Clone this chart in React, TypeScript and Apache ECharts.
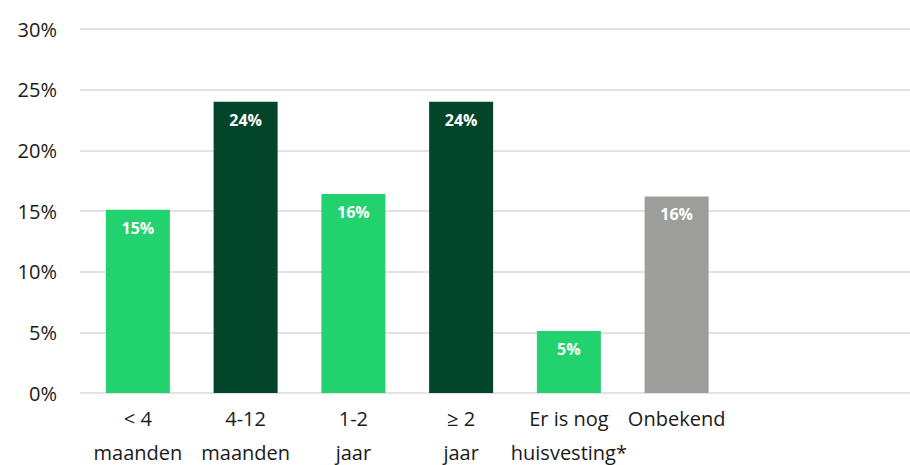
import React, { useEffect, useRef } from "react";
import * as echarts from "echarts";

const categories = ["< 4\nmaanden", "4-12\nmaanden", "1-2\njaar", "≥ 2\njaar", "Er is nog\nhuisvesting*", "Onbekend", "", ""];
const values = [15.1, 24.0, 16.4, 24.0, 5.1, 16.2];
const labels = ["15%", "24%", "16%", "24%", "5%", "16%"];
const barColors = ["#21D26F", "#03452A", "#21D26F", "#03452A", "#21D26F", "#9D9D9C"];
const yTicks = [0, 5, 10, 15, 20, 25, 30];

export default function App() {
  const ref = useRef<HTMLDivElement>(null);
  useEffect(() => {
    if (!ref.current) return;
    const chart = echarts.init(ref.current, undefined, { renderer: "svg" });
    const font = "'Open Sans', sans-serif";
    chart.setOption({
      animation: false,
      grid: [
        { left: 80, right: 0, top: 29, height: 364, containLabel: false, outerBoundsMode: "none" },
        { left: 84, width: 862, top: 29, height: 364, containLabel: false, outerBoundsMode: "none" },
      ],
      xAxis: [
        {
          type: "category",
          gridIndex: 0,
          data: [""],
          axisLine: { show: false },
          axisTick: { show: false },
          axisLabel: { show: false },
        },
        {
          type: "category",
          gridIndex: 1,
          data: categories,
          axisLine: { show: false },
          axisTick: { show: false },
          axisLabel: {
            interval: 0,
            margin: 8,
            color: "#1a1a1a",
            fontFamily: font,
            fontSize: 20,
            lineHeight: 34,
          },
        },
      ],
      yAxis: [
        {
          type: "value",
          gridIndex: 0,
          min: yTicks[0],
          max: yTicks[yTicks.length - 1],
          interval: 5,
          axisLine: { show: false },
          axisTick: { show: false },
          splitLine: { lineStyle: { color: "#D9D9D9", width: 1.5 } },
          axisLabel: {
            margin: 23,
            color: "#1a1a1a",
            fontFamily: font,
            fontSize: 20,
            formatter: (v: number) => v + "%",
          },
        },
        {
          type: "value",
          gridIndex: 1,
          min: 0,
          max: 30,
          interval: 5,
          show: false,
          splitLine: { show: false },
        },
      ],
      series: [
        {
          type: "bar",
          xAxisIndex: 1,
          yAxisIndex: 1,
          barWidth: 64,
          data: values.map((v, i) => ({
            value: v,
            itemStyle: { color: barColors[i] },
            label: { formatter: labels[i] },
          })),
          label: {
            show: true,
            position: "insideTop",
            distance: 10,
            color: "#ffffff",
            fontFamily: font,
            fontWeight: "bold",
            fontSize: 16,
          },
        },
      ],
    });
    return () => chart.dispose();
  }, []);
  return (
    <div
      ref={ref}
      style={{ position: "absolute", left: 0, top: 0, width: 910, height: 465, background: "#fff" }}
    />
  );
}
